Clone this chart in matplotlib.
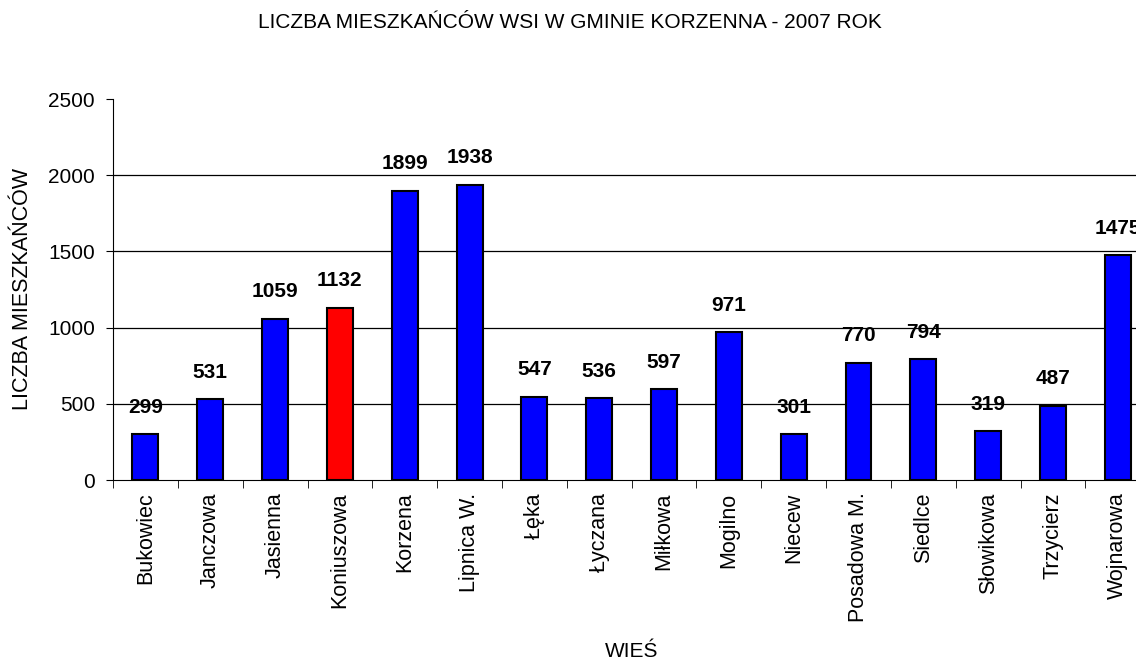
import matplotlib.pyplot as plt
import numpy as np

plt.rcParams['font.family'] = ['Liberation Sans', 'DejaVu Sans']

villages = ['Bukowiec', 'Janczowa', 'Jasienna', 'Koniuszowa', 'Korzena', 'Lipnica W.',
            'Łęka', 'Łyczana', 'Miłkowa', 'Mogilno', 'Niecew', 'Posadowa M.',
            'Siedlce', 'Słowikowa', 'Trzycierz', 'Wojnarowa']
population = [299, 531, 1059, 1132, 1899, 1938, 547, 536, 597, 971, 301, 770,
              794, 319, 487, 1475]
highlight = 'Koniuszowa'
y_ticks = [0, 500, 1000, 1500, 2000, 2500]
grid_levels = [500, 1000, 1500, 2000]

fig = plt.figure(figsize=(11.36, 6.61), dpi=100)
# axes runs past the right edge of the figure, like the cut-off original
ax = fig.add_axes([0.0995, 0.2738, 0.913, 0.5764])

x = np.arange(len(villages))
colors = ['#ff0000' if v == highlight else '#0000ff' for v in villages]
ax.bar(x, population, width=0.4, color=colors, edgecolor='black', linewidth=1.5, zorder=3)

for xi, val in zip(x, population):
    ax.annotate(str(val), (xi, val), xytext=(0, 27), textcoords='offset pixels',
                ha='center', va='center', fontsize=15, fontweight='bold', zorder=4)

ax.set_xlim(-0.5, len(villages) - 0.5)
ax.set_ylim(0, 2500)
ax.set_yticks(y_ticks)
for g in grid_levels:
    ax.axhline(g, color='black', linewidth=0.9, zorder=0)

# category labels in the middle, tick marks between categories
ax.set_xticks(x)
ax.set_xticklabels(villages, rotation=90, fontsize=15.5)
ax.tick_params(axis='x', length=0, pad=9)
ax.set_xticks(np.arange(len(villages) + 1) - 0.5, minor=True)
ax.tick_params(axis='x', which='minor', length=6, direction='out', color='black')
ax.tick_params(axis='y', labelsize=15, length=5, pad=8, direction='out')

for s in ['top', 'right']:
    ax.spines[s].set_visible(False)

fig.text(22.5 / 1136, 1 - 289 / 661, 'LICZBA MIESZKAŃCÓW', rotation=90,
         ha='center', va='center', fontsize=15.5)
fig.text(632 / 1136, 1 - 657 / 661, 'WIEŚ', ha='center', va='baseline', fontsize=15)
fig.text(570 / 1136, 1 - 28.5 / 661, 'LICZBA MIESZKAŃCÓW WSI W GMINIE KORZENNA - 2007 ROK',
         ha='center', va='baseline', fontsize=15)

fig.savefig('out.png', dpi=100)
